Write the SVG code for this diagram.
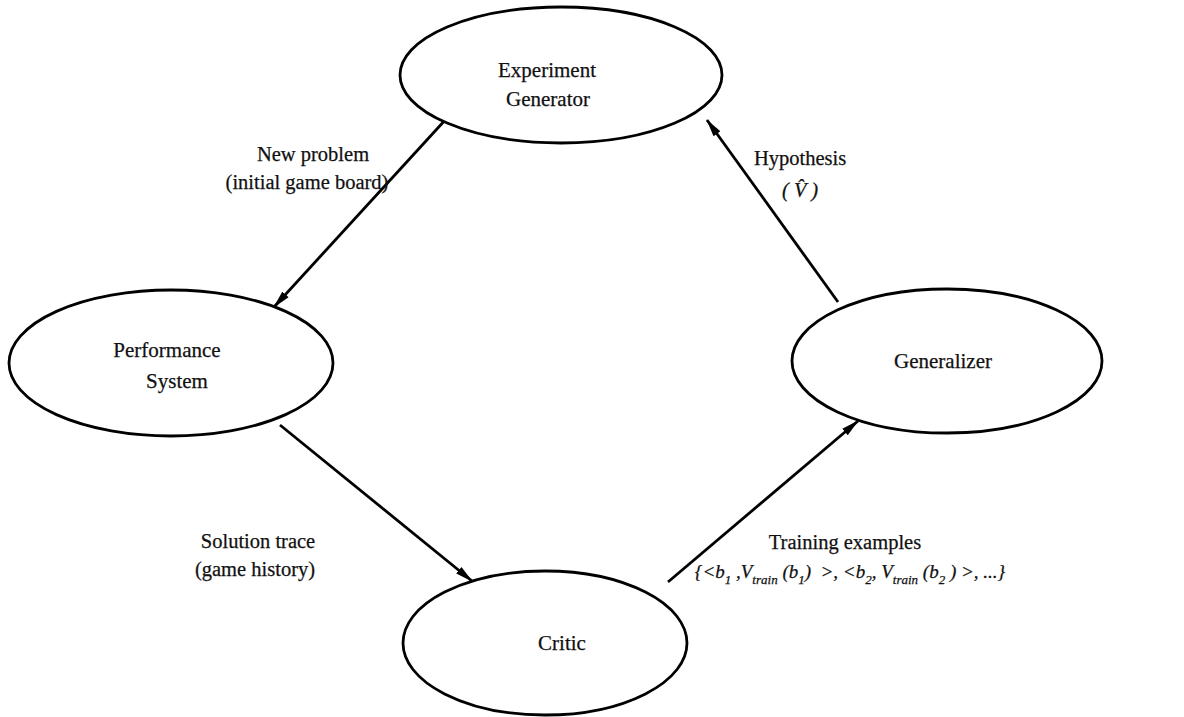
<svg xmlns="http://www.w3.org/2000/svg" width="1184" height="717" viewBox="0 0 1184 717">
<style>
.node ellipse{fill:#fff;stroke:#000;stroke-width:2.8}
.t{font-family:"Liberation Serif","Times New Roman",serif;font-size:21px;fill:#111;stroke:#111;stroke-width:0.25;text-anchor:middle}
.lbl{font-family:"Liberation Serif","Times New Roman",serif;font-size:20.5px;fill:#111;stroke:#111;stroke-width:0.25;text-anchor:middle}
.it{font-style:italic}
.fm{font-size:19px}
.sub{font-size:13px}
.conn line{stroke:#000;stroke-width:2.8}
</style>
<defs>
<marker id="ah" viewBox="0 0 18 10" refX="17" refY="5" markerWidth="18" markerHeight="10" markerUnits="userSpaceOnUse" orient="auto">
<path d="M0,0.8 L18,5 L0,9.2 Z" fill="#000"/>
</marker>
</defs>
<rect width="1184" height="717" fill="#fff"/>
<g class="conn" id="connectors">
<line x1="447" y1="118" x2="274" y2="307" marker-end="url(#ah)"/>
<line x1="280" y1="425" x2="472" y2="581" marker-end="url(#ah)"/>
<line x1="668" y1="582" x2="858" y2="421" marker-end="url(#ah)"/>
<line x1="838" y1="302" x2="707" y2="120" marker-end="url(#ah)"/>
</g>
<g class="node" id="experiment-generator">
<ellipse cx="561" cy="75" rx="161" ry="68"/>
<text class="t" x="547" y="77">Experiment</text>
<text class="t" x="548" y="106">Generator</text>
</g>
<g class="node" id="performance-system">
<ellipse cx="171" cy="363" rx="162" ry="73"/>
<text class="t" x="167" y="357">Performance</text>
<text class="t" x="177" y="388">System</text>
</g>
<g class="node" id="generalizer">
<ellipse cx="947" cy="361" rx="155" ry="72"/>
<text class="t" x="943" y="368">Generalizer</text>
</g>
<g class="node" id="critic">
<ellipse cx="545" cy="643" rx="142" ry="72"/>
<text class="t" x="562" y="650">Critic</text>
</g>
<g id="labels">
<text class="lbl" x="313" y="161">New problem</text>
<text class="lbl" x="307" y="189">(initial game board)</text>
<text class="lbl" x="800" y="165">Hypothesis</text>
<text class="lbl" x="800" y="197"><tspan class="it">( V̂ )</tspan></text>
<text class="lbl" x="258" y="548">Solution trace</text>
<text class="lbl" x="255" y="576">(game history)</text>
<text class="lbl" x="845" y="549">Training examples</text>
<text class="lbl it fm" x="850" y="578" xml:space="preserve">{&lt;b<tspan class="sub" dy="6">1</tspan><tspan dy="-6"> ,V</tspan><tspan class="sub" dy="6">train</tspan><tspan dy="-6"> (b</tspan><tspan class="sub" dy="6">1</tspan><tspan dy="-6">)  &gt;, &lt;b</tspan><tspan class="sub" dy="6">2</tspan><tspan dy="-6">, V</tspan><tspan class="sub" dy="6">train</tspan><tspan dy="-6"> (b</tspan><tspan class="sub" dy="6">2</tspan><tspan dy="-6"> ) &gt;, ...}</tspan></text>
</g>
</svg>
